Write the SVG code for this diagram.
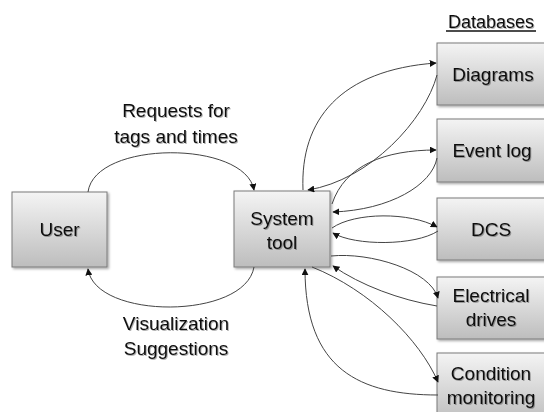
<svg xmlns="http://www.w3.org/2000/svg" width="544" height="412" viewBox="0 0 544 412">
<defs>
<linearGradient id="boxg" x1="0" y1="0" x2="0" y2="1">
<stop offset="0" stop-color="#f4f4f4"/>
<stop offset="1" stop-color="#bdbdbd"/>
</linearGradient>
<filter id="bsh" x="-10%" y="-10%" width="130%" height="130%">
<feDropShadow dx="1.5" dy="1.5" stdDeviation="1" flood-color="#000" flood-opacity="0.35"/>
</filter>
<filter id="tsh" x="-10%" y="-20%" width="130%" height="150%">
<feDropShadow dx="1" dy="1" stdDeviation="0.7" flood-color="#000" flood-opacity="0.3"/>
</filter>
<marker id="ah" viewBox="0 0 10 10" refX="9" refY="5" markerWidth="7" markerHeight="7" markerUnits="userSpaceOnUse" orient="auto">
<path d="M0,0 L10,5 L0,10 z" fill="#111"/>
</marker>
</defs>
<style>
.box{fill:url(#boxg);stroke:#7a7a7a;stroke-width:1;filter:url(#bsh)}
.lbl{font-family:"Liberation Sans",Arial,sans-serif;font-size:19px;fill:#111;text-anchor:middle;filter:url(#tsh)}
.cn{fill:none;stroke:#444;stroke-width:1;marker-end:url(#ah)}
</style>
<rect width="544" height="412" fill="#fff"/>

<g id="title">
<text class="lbl" x="491" y="28" font-size="18" style="font-size:18px">Databases</text>
<line x1="446" y1="31" x2="536" y2="31" stroke="#111" stroke-width="1.3"/>
</g>

<g id="user">
<rect class="box" x="12" y="192" width="95" height="75"/>
<text class="lbl" x="59.5" y="236">User</text>
</g>

<g id="system">
<rect class="box" x="234" y="191" width="96" height="76"/>
<text class="lbl" x="282" y="225">System</text>
<text class="lbl" x="282" y="249">tool</text>
</g>

<g id="diagrams">
<rect class="box" x="437" y="43" width="115" height="62"/>
<text class="lbl" x="493" y="81">Diagrams</text>
</g>

<g id="eventlog">
<rect class="box" x="437" y="119" width="115" height="63"/>
<text class="lbl" x="492" y="157">Event log</text>
</g>

<g id="dcs">
<rect class="box" x="437" y="198" width="115" height="62"/>
<text class="lbl" x="491" y="236">DCS</text>
</g>

<g id="electrical">
<rect class="box" x="437" y="277" width="115" height="62"/>
<text class="lbl" x="491" y="302">Electrical</text>
<text class="lbl" x="491" y="326">drives</text>
</g>

<g id="condition">
<rect class="box" x="437" y="353" width="115" height="70"/>
<text class="lbl" x="491" y="380">Condition</text>
<text class="lbl" x="491" y="404">monitoring</text>
</g>

<g id="labels">
<text class="lbl" x="176" y="117">Requests for</text>
<text class="lbl" x="176" y="143">tags and times</text>
<text class="lbl" x="176" y="330">Visualization</text>
<text class="lbl" x="176" y="355">Suggestions</text>
</g>

<g id="connectors">
<path class="cn" d="M88 192 C95 140 245 140 254 190"/>
<path class="cn" d="M254 267 C245 320 95 320 88 269"/>
<path class="cn" d="M303 190 C300 120 340 70 436 63"/>
<path class="cn" d="M437 75 C425 120 370 180 308 190"/>
<path class="cn" d="M332 204 C345 165 385 150 436 150"/>
<path class="cn" d="M437 158 C432 185 390 210 333 212"/>
<path class="cn" d="M332 228 C355 212 410 212 437 227"/>
<path class="cn" d="M438 231 C415 246 355 246 333 233"/>
<path class="cn" d="M331 256 C370 252 430 270 438 298"/>
<path class="cn" d="M437 306 C400 300 360 285 333 266"/>
<path class="cn" d="M312 267 C370 290 420 340 438 382"/>
<path class="cn" d="M438 395 C360 395 305 370 305 269"/>
</g>
</svg>
